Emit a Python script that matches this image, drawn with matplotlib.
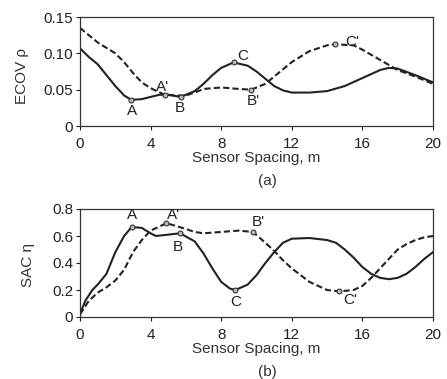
import matplotlib
matplotlib.use("Agg")
import matplotlib.pyplot as plt

plt.rcParams['font.family'] = ['Liberation Sans', 'DejaVu Sans']

# (a) ECOV
ecov_x_solid = [0, 0.5, 1, 1.5, 2, 2.5, 2.9, 3.5, 4, 4.5, 5, 5.7, 6.5, 7, 7.5, 8, 8.7, 9.5, 10, 10.5, 11, 11.5, 12, 13, 14, 15, 16, 17, 17.5, 18, 19, 20]
ecov_y_solid = [0.107, 0.095, 0.085, 0.070, 0.055, 0.042, 0.036, 0.037, 0.040, 0.043, 0.043, 0.040, 0.048, 0.058, 0.070, 0.080, 0.0875, 0.083, 0.075, 0.065, 0.055, 0.049, 0.046, 0.046, 0.048, 0.055, 0.066, 0.077, 0.080, 0.079, 0.070, 0.060]
ecov_x_dash = [0, 1, 2, 2.5, 3, 3.5, 4, 4.8, 5.5, 6, 6.5, 7, 8, 9, 9.7, 10.5, 11, 12, 13, 14, 14.45, 15.5, 16, 17, 18, 19, 20]
ecov_y_dash = [0.135, 0.115, 0.100, 0.088, 0.073, 0.060, 0.052, 0.043, 0.042, 0.042, 0.046, 0.051, 0.053, 0.051, 0.050, 0.058, 0.068, 0.088, 0.103, 0.111, 0.1125, 0.111, 0.105, 0.091, 0.077, 0.068, 0.058]
ecov_mark_x = [2.9, 5.7, 8.7, 4.8, 9.7, 14.45]
ecov_mark_y = [0.036, 0.040, 0.0875, 0.043, 0.050, 0.1125]
ecov_labels = ["A", "B", "C", "A'", "B'", "C'"]

# (b) SAC
sac_x_solid = [0, 0.3, 0.7, 1, 1.5, 2, 2.5, 2.93, 3.5, 4, 4.3, 5, 5.67, 6.5, 7, 7.5, 8, 8.5, 8.8, 9.5, 10, 10.5, 11, 11.5, 12, 13, 14, 14.5, 15, 15.5, 16, 16.5, 17, 17.5, 18, 18.5, 19, 19.5, 20]
sac_y_solid = [0.02, 0.12, 0.20, 0.24, 0.32, 0.48, 0.60, 0.667, 0.66, 0.62, 0.60, 0.61, 0.62, 0.56, 0.47, 0.36, 0.26, 0.21, 0.20, 0.24, 0.31, 0.40, 0.48, 0.55, 0.58, 0.585, 0.57, 0.55, 0.50, 0.44, 0.37, 0.32, 0.29, 0.28, 0.29, 0.32, 0.37, 0.43, 0.48]
sac_x_dash = [0, 0.5, 1, 1.5, 2, 2.5, 3, 3.5, 4, 4.5, 4.9, 5.8, 6.5, 7, 8, 9, 9.8, 10.5, 11, 11.5, 12, 12.5, 13, 13.5, 14, 14.7, 15.5, 16, 16.5, 17, 17.5, 18, 18.5, 19, 19.5, 20]
sac_y_dash = [0.02, 0.12, 0.18, 0.22, 0.27, 0.35, 0.48, 0.57, 0.64, 0.67, 0.695, 0.66, 0.63, 0.62, 0.63, 0.64, 0.63, 0.55, 0.49, 0.42, 0.36, 0.31, 0.26, 0.23, 0.20, 0.19, 0.20, 0.23, 0.29, 0.36, 0.43, 0.50, 0.54, 0.57, 0.59, 0.60]
sac_mark_x = [2.93, 5.67, 8.8, 4.9, 9.8, 14.7]
sac_mark_y = [0.667, 0.62, 0.20, 0.695, 0.63, 0.19]
sac_labels = ["A", "B", "C", "A'", "B'", "C'"]

xticks = [0, 4, 8, 12, 16, 20]

W, H = 447, 379
fig = plt.figure(figsize=(W/100, H/100), dpi=100)
ax1 = fig.add_axes([80/W, 1-126/H, 353/W, 109/H])
ax2 = fig.add_axes([80/W, 1-317/H, 353/W, 108/H])

def style(ax):
    ax.set_xlim(0, 20)
    ax.set_xticks(xticks)
    ax.set_xticklabels([str(t) for t in xticks])
    ax.tick_params(labelsize=11, direction='out', length=3, width=0.8, colors='#222222')
    ax.tick_params(axis='x', pad=5)
    ax.tick_params(axis='y', pad=2)
    for s in ax.spines.values():
        s.set_linewidth(0.9)
        s.set_color('#333333')

def mark_and_label(ax, xs, ys, labs, lab_pos):
    ax.plot(xs, ys, 'o', ms=3.5, mfc='#bbbbbb', mec='#333333', mew=0.8, ls='none')
    for lab, (lx, ly) in zip(labs, lab_pos):
        ax.text(lx, ly, lab, ha='center', va='center', fontsize=11, color='#222222')

# (a)
ax1.plot(ecov_x_solid, ecov_y_solid, color='#222222', lw=1.5)
ax1.plot(ecov_x_dash, ecov_y_dash, color='#222222', lw=1.5, ls=(0, (3, 1.5)))
lab_a = [(2.95, 0.021), (5.67, 0.025), (9.2, 0.097), (4.7, 0.054), (9.8, 0.035), (15.4, 0.116)]
mark_and_label(ax1, ecov_mark_x, ecov_mark_y, ecov_labels, lab_a)
style(ax1)
ax1.set_ylim(0, 0.15)
ax1.set_yticks([0, 0.05, 0.10, 0.15])
ax1.set_yticklabels(['0', '0.05', '0.10', '0.15'])
fig.text(22/W, 1-76/H, "ECOV ρ", rotation=90, ha='center', va='center', fontsize=11, color='#333333')
fig.text(256/W, 1-158/H, "Sensor Spacing, m", ha='center', va='center', fontsize=11, color='#333333')
fig.text(267/W, 1-181/H, "(a)", ha='center', va='center', fontsize=11, color='#333333')

# (b)
ax2.plot(sac_x_solid, sac_y_solid, color='#222222', lw=1.5)
ax2.plot(sac_x_dash, sac_y_dash, color='#222222', lw=1.5, ls=(0, (3, 1.5)))
lab_b = [(2.93, 0.755), (5.56, 0.52), (8.8, 0.11), (5.3, 0.755), (10.1, 0.70), (15.3, 0.126)]
mark_and_label(ax2, sac_mark_x, sac_mark_y, sac_labels, lab_b)
style(ax2)
ax2.set_ylim(0, 0.8)
ax2.set_yticks([0, 0.2, 0.4, 0.6, 0.8])
ax2.set_yticklabels(['0', '0.2', '0.4', '0.6', '0.8'])
fig.text(28/W, 1-265/H, "SAC η", rotation=90, ha='center', va='center', fontsize=11, color='#333333')
fig.text(256/W, 1-349/H, "Sensor Spacing, m", ha='center', va='center', fontsize=11, color='#333333')
fig.text(267/W, 1-372/H, "(b)", ha='center', va='center', fontsize=11, color='#333333')

fig.savefig("out.png", dpi=100, facecolor='white')
